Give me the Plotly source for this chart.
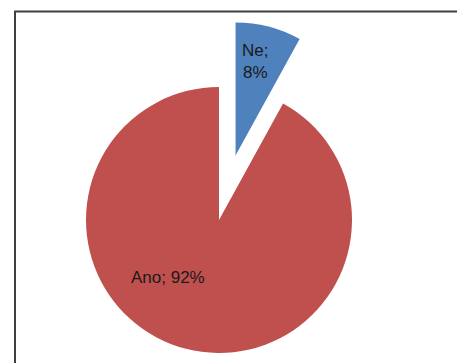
import math
import plotly.graph_objects as go

# Data
labels = ["Ne", "Ano"]
values = [8, 92]
colors = ["#4F81BD", "#C0504D"]

W, H = 457, 363
fig = go.Figure()

# pie geometry (pixels)
cx, cy, r = 219, 220, 133
pull = 0.5
total = sum(values)
frac_ne = values[0] / total
mid = math.radians(360 * frac_ne / 2)
bx = cx + pull * r * math.sin(mid)
by = cy - pull * r * math.cos(mid)


def dom(x0, y0, rad):
    return dict(x=[(x0 - rad) / W, (x0 + rad) / W],
                y=[1 - (y0 + rad) / H, 1 - (y0 - rad) / H])


# red slice (not pulled)
fig.add_trace(go.Pie(
    labels=labels, values=values, sort=False, direction="clockwise", rotation=0,
    marker=dict(colors=["rgba(0,0,0,0)", colors[1]], line=dict(width=0)),
    textinfo="none", domain=dom(cx, cy, r), showlegend=False, hoverinfo="label+percent"))
# blue slice (pulled out)
fig.add_trace(go.Pie(
    labels=labels, values=values, sort=False, direction="clockwise", rotation=0,
    marker=dict(colors=[colors[0], "rgba(0,0,0,0)"], line=dict(width=0)),
    textinfo="none", domain=dom(bx, by, r), showlegend=False, hoverinfo="label+percent"))

pct = [round(v / total * 100) for v in values]
font = dict(family="Liberation Sans, Arial, sans-serif", size=17, color="#1a1a1a")
fig.add_annotation(x=255 / W, y=1 - 61 / H, xref="paper", yref="paper",
                   text=f"{labels[0]};<br>{pct[0]}%", showarrow=False, font=font,
                   xanchor="center", yanchor="middle")
fig.add_annotation(x=168 / W, y=1 - 277 / H, xref="paper", yref="paper",
                   text=f"{labels[1]}; {pct[1]}%", showarrow=False, font=font,
                   xanchor="center", yanchor="middle")

# chart frame
fig.add_shape(type="rect", xref="paper", yref="paper",
              x0=15 / W, x1=470 / W, y0=1 - 380 / H, y1=1 - 11.5 / H,
              line=dict(color="#3f3f3f", width=2))

fig.update_layout(width=W, height=H, margin=dict(l=0, r=0, t=0, b=0),
                  paper_bgcolor="white", plot_bgcolor="white")
fig.write_html("out.html")
